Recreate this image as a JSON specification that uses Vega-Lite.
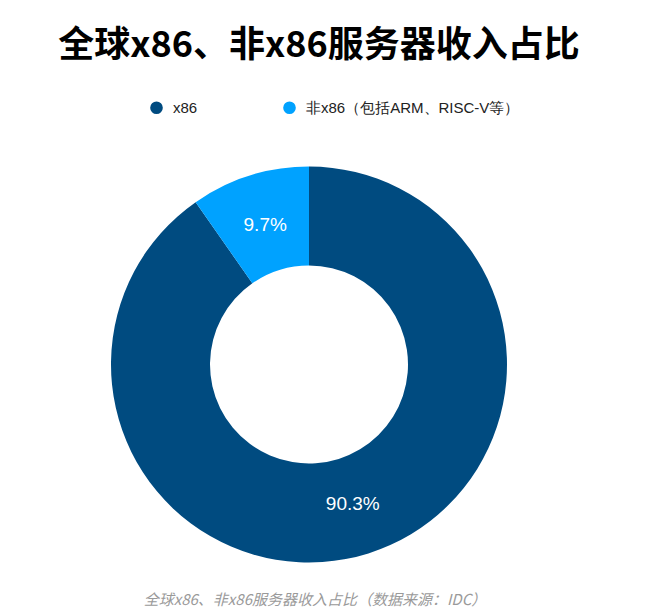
{
  "$schema": "https://vega.github.io/schema/vega-lite/v6.json",
  "padding": {"left": 0, "top": 28, "right": 0, "bottom": 0},
  "background": "white",
  "config": {"view": {"stroke": null}},
  "title": {
    "text": "全球x86、非x86服务器收入占比（数据来源：IDC）",
    "orient": "bottom",
    "anchor": "middle",
    "font": "Noto Sans CJK SC",
    "fontSize": 15,
    "fontStyle": "italic",
    "fontWeight": "normal",
    "color": "#9a9a9a",
    "offset": 30,
    "dx": 6
  },
  "vconcat": [
    {
      "width": 618,
      "height": 397,
      "title": {
        "text": "全球x86、非x86服务器收入占比",
        "anchor": "middle",
        "font": "Noto Sans CJK SC",
        "fontSize": 36,
        "fontWeight": "bold",
        "color": "#000000",
        "offset": 101,
        "dx": 10
      },
      "data": {
        "values": [
          {"type": "x86", "share": 90.3, "label": "90.3%", "idx": 1},
          {"type": "非x86（包括ARM、RISC-V等）", "share": 9.7, "label": "9.7%", "idx": 2}
        ]
      },
      "encoding": {
        "theta": {"field": "share", "type": "quantitative", "stack": true},
        "order": {"field": "idx", "type": "quantitative"}
      },
      "layer": [
        {
          "mark": {"type": "arc", "outerRadius": 198, "innerRadius": 99},
          "encoding": {
            "color": {
              "field": "type",
              "type": "nominal",
              "scale": {
                "domain": ["x86", "非x86（包括ARM、RISC-V等）"],
                "range": ["#004B80", "#00A2FF"]
              },
              "legend": {
                "orient": "none",
                "legendX": 149,
                "legendY": -66,
                "direction": "horizontal",
                "title": null,
                "symbolType": "circle",
                "symbolSize": 160,
                "symbolStrokeWidth": 0,
                "labelFont": "Liberation Sans",
                "labelFontSize": 15,
                "labelColor": "#222222",
                "labelOffset": 9,
                "labelLimit": 400,
                "columnPadding": 84,
                "padding": 0
              }
            }
          }
        },
        {
          "mark": {
            "type": "text",
            "radius": 146,
            "fill": "white",
            "fontSize": 19,
            "font": "Liberation Sans"
          },
          "encoding": {"text": {"field": "label", "type": "nominal"}}
        }
      ]
    }
  ]
}
